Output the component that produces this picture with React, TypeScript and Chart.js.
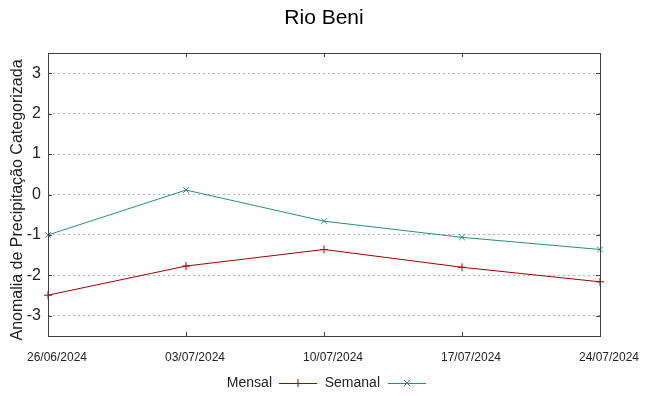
import React, { useEffect, useRef } from "react";
import { Chart, registerables } from "chart.js";

Chart.register(...registerables);

const categories = ["26/06/2024", "03/07/2024", "10/07/2024", "17/07/2024", "24/07/2024"];
const mensal = [-2.49, -1.77, -1.36, -1.8, -2.16];
const semanal = [-1.0, 0.11, -0.66, -1.06, -1.36];
const yTickValues = [-3, -2, -1, 0, 1, 2, 3];
const titleText = "Rio Beni";
const yTitle = "Anomalia de Precipitação Categorizada";

const RED = "#a00000";
const TEAL = "#2a8a8a";
const FONT = "'Liberation Sans', Arial, sans-serif";

const gnuplotPlugin = {
  id: "gnuplotDecor",
  afterDatasetsDraw(chart: any) {
    const { ctx, chartArea: a, scales } = chart;
    ctx.save();
    ctx.strokeStyle = "#404040";
    ctx.lineWidth = 1;
    ctx.strokeRect(Math.round(a.left) + 0.5, Math.round(a.top) + 0.5, Math.round(a.right - a.left), Math.round(a.bottom - a.top));
    const tl = 4;
    ctx.beginPath();
    yTickValues.forEach((v) => {
      const y = Math.round(scales.y.getPixelForValue(v)) + 0.5;
      ctx.moveTo(a.left, y); ctx.lineTo(a.left + tl, y);
      ctx.moveTo(a.right, y); ctx.lineTo(a.right - tl, y);
    });
    categories.forEach((_, i) => {
      const x = Math.round(scales.x.getPixelForValue(i)) + 0.5;
      ctx.moveTo(x, a.bottom); ctx.lineTo(x, a.bottom - tl);
      ctx.moveTo(x, a.top); ctx.lineTo(x, a.top + tl);
    });
    ctx.stroke();
    ctx.restore();
  },
  afterDraw(chart: any) {
    const { ctx } = chart;
    ctx.save();
    ctx.fillStyle = "#000";
    ctx.font = `21px ${FONT}`;
    ctx.textAlign = "center";
    ctx.textBaseline = "middle";
    ctx.fillText(titleText, 324, 18);
    ctx.font = `16px ${FONT}`;
    ctx.fillStyle = "#222";
    ctx.translate(18, 200);
    ctx.rotate(-Math.PI / 2);
    ctx.fillText(yTitle, 0, 0);
    ctx.restore();
    ctx.save();
    ctx.font = `14px ${FONT}`;
    ctx.textBaseline = "middle";
    ctx.textAlign = "right";
    const ly = 383;
    const items = chart.data.datasets.map((d: any, i: number) => ({
      label: d.label, color: d.borderColor, style: d.pointStyle,
      textRight: i === 0 ? 272 : 380, lx0: i === 0 ? 279 : 388,
    }));
    items.forEach((it: any) => {
      ctx.fillStyle = "#222";
      ctx.fillText(it.label, it.textRight, ly);
      ctx.strokeStyle = it.color;
      ctx.lineWidth = 1;
      ctx.beginPath();
      ctx.moveTo(it.lx0, ly + 0.5);
      ctx.lineTo(it.lx0 + 38, ly + 0.5);
      ctx.stroke();
      const cx = it.lx0 + 19;
      ctx.beginPath();
      if (it.style === "cross") {
        ctx.moveTo(cx, ly - 4); ctx.lineTo(cx, ly + 4);
        ctx.moveTo(cx - 4, ly + 0.5); ctx.lineTo(cx + 4, ly + 0.5);
      } else {
        ctx.moveTo(cx - 3, ly - 3); ctx.lineTo(cx + 3, ly + 3);
        ctx.moveTo(cx - 3, ly + 3); ctx.lineTo(cx + 3, ly - 3);
      }
      ctx.stroke();
    });
    ctx.restore();
  },
};

export default function App() {
  const ref = useRef<HTMLCanvasElement>(null);
  useEffect(() => {
    document.body.style.margin = "0";
    const chart = new Chart(ref.current!, {
      type: "line",
      data: {
        labels: categories,
        datasets: [
          {
            label: "Mensal",
            data: mensal,
            borderColor: RED,
            backgroundColor: RED,
            borderWidth: 1,
            pointStyle: "cross",
            pointRadius: 4,
            pointBorderWidth: 1,
            pointBorderColor: RED,
            tension: 0,
          },
          {
            label: "Semanal",
            data: semanal,
            borderColor: TEAL,
            backgroundColor: TEAL,
            borderWidth: 1,
            pointStyle: "crossRot",
            pointRadius: 4,
            pointBorderWidth: 1,
            pointBorderColor: TEAL,
            tension: 0,
          },
        ],
      },
      options: {
        animation: false,
        responsive: false,
        layout: { padding: { top: 53, right: 48, bottom: 0, left: 0 } },
        plugins: { legend: { display: false }, title: { display: false }, tooltip: { enabled: false } },
        scales: {
          x: {
            type: "category",
            offset: false,
            grid: { display: false, drawTicks: false },
            border: { display: false },
            ticks: { font: { family: FONT, size: 12 }, color: "#222", padding: 14, labelOffset: 9, maxRotation: 0, autoSkip: false },
            afterFit: (s: any) => { s.height = 60; },
          },
          y: {
            min: -3.5,
            max: 3.5,
            grid: { color: "#b0b0b0", lineWidth: 1, drawTicks: false },
            border: { display: false, dash: [2, 3] },
            ticks: { font: { family: FONT, size: 16 }, color: "#222", padding: 7 },
            afterBuildTicks: (s: any) => { s.ticks = yTickValues.map((v) => ({ value: v })); },
            afterFit: (s: any) => { s.width = 48; },
          },
        },
      },
      plugins: [gnuplotPlugin],
    } as any);
    return () => chart.destroy();
  }, []);
  return <canvas ref={ref} width={648} height={396} style={{ display: "block" }} />;
}
